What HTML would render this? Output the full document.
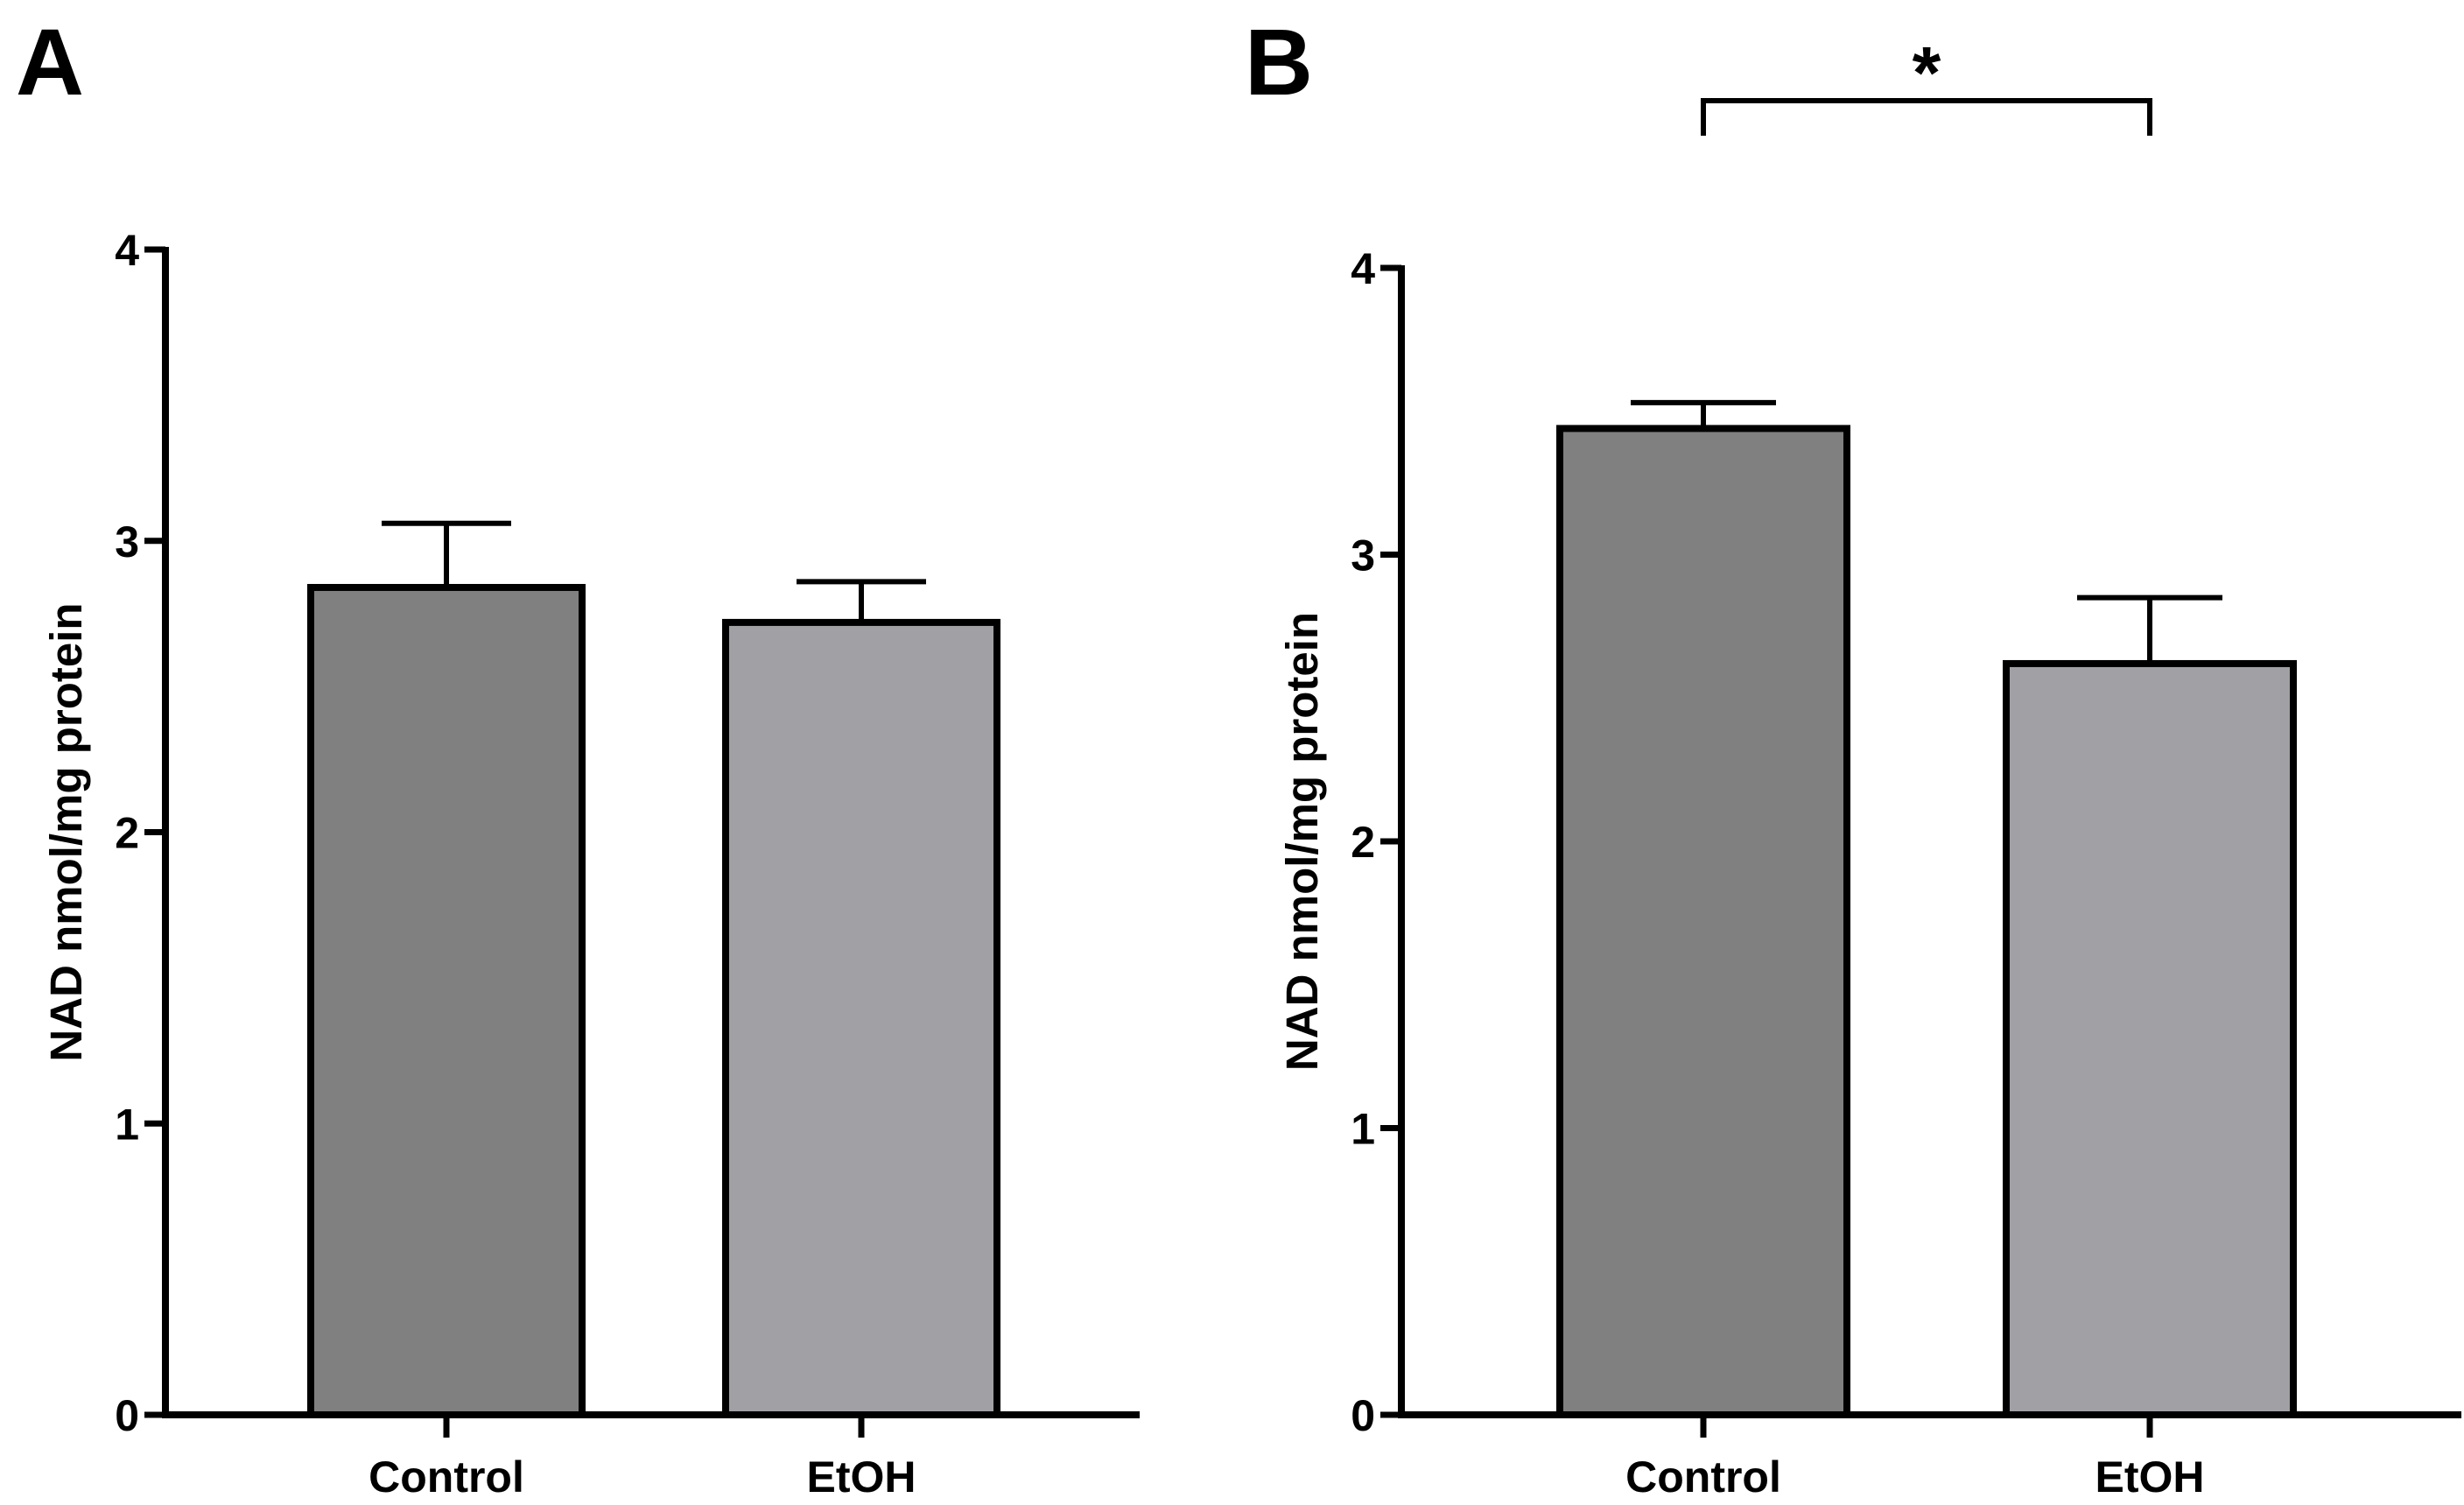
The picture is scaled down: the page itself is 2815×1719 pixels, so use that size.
<!DOCTYPE html>
<html><head><meta charset="utf-8"><style>body{margin:0;background:#fff}svg{display:block}text{font-family:"Liberation Sans",Arial,sans-serif;font-weight:bold;fill:#000}</style></head>
<body>
<svg id="chart" width="2815" height="1719" viewBox="0 0 2815 1719" xmlns="http://www.w3.org/2000/svg">
<text x="18" y="108" font-size="108">A</text>
<text x="1422" y="108" font-size="108">B</text>
</svg>
<script>
const categories = ["Control","EtOH"];
const valuesA = [2.84, 2.72];
const errorsA = [0.22, 0.14];
const valuesB = [3.44, 2.62];
const errorsB = [0.09, 0.23];
const tickLabels = ["0","1","2","3","4"];
const fills = ["#808080","#a1a0a5"];
const svg = document.getElementById('chart');
const NS = 'http://www.w3.org/2000/svg';
function mk(tag, attrs, parent){const e=document.createElementNS(NS,tag);for(const k in attrs)e.setAttribute(k,attrs[k]);(parent||svg).appendChild(e);return e;}
function panel(p, vals, errs, prefix){
  const g = mk('g',{});
  
  
  const y = v => p.y0 - (v/4)*(p.y0-p.y4);
  const xc = i => p.centers[i];
  vals.forEach((v,i)=>{
    const r = mk('rect',{x:xc(i)-p.bw/2,y:y(v),width:p.bw,height:p.y0-y(v),fill:fills[i],stroke:'#000','stroke-width':8},g);
    
    
    const e = mk('path',{d:`M${xc(i)},${y(v)} V${y(v+errs[i])} M${xc(i)-p.cap},${y(v+errs[i])} H${xc(i)+p.cap}`,stroke:'#000','stroke-width':6,fill:'none'},g);
    
    
    const t = mk('text',{x:xc(i),y:1704,'font-size':50,'text-anchor':'middle'},g);
    t.textContent = categories[i];
    
    
    const tk = mk('line',{x1:xc(i),x2:xc(i),y1:p.y0,y2:p.y0+26,stroke:'#000','stroke-width':7},g);
    
    
  });
  const ax = mk('path',{d:`M${p.ax},${y(4)-3} V${p.y0} H${p.xend}`,stroke:'#000','stroke-width':8,fill:'none'},g);
  
  
  tickLabels.forEach((lab,k)=>{
    const tl = mk('line',{x1:p.ax-24,x2:p.ax,y1:y(k),y2:y(k),stroke:'#000','stroke-width':7},g);
    
    
    const t = mk('text',{x:p.ax-30,y:y(k)+18,'font-size':50,'text-anchor':'end'},g);
    t.textContent = lab;
    
    
  });
  const yl = mk('text',{x:0,y:0,'font-size':51,'text-anchor':'middle',transform:`translate(${p.ax-96},${(p.y0+p.y4)/2}) rotate(-90)`},g);
  yl.textContent = 'NAD nmol/mg protein';
  
  
  return {g,xc};
}
panel({ax:189,y0:1616,y4:285,xend:1302,centers:[510,984],bw:310,cap:74},valuesA,errorsA,'panel-a');
const pb = panel({ax:1601,y0:1616,y4:306,xend:2812,centers:[1946,2456],bw:328,cap:83},valuesB,errorsB,'panel-b');
const br = mk('path',{d:`M${pb.xc(0)},155 V115 H${pb.xc(1)} V155`,stroke:'#000','stroke-width':6,fill:'none'});


const st = mk('text',{x:(pb.xc(0)+pb.xc(1))/2,y:112,'font-size':84,'text-anchor':'middle'});
st.textContent = '*';


</script>
</body></html>
